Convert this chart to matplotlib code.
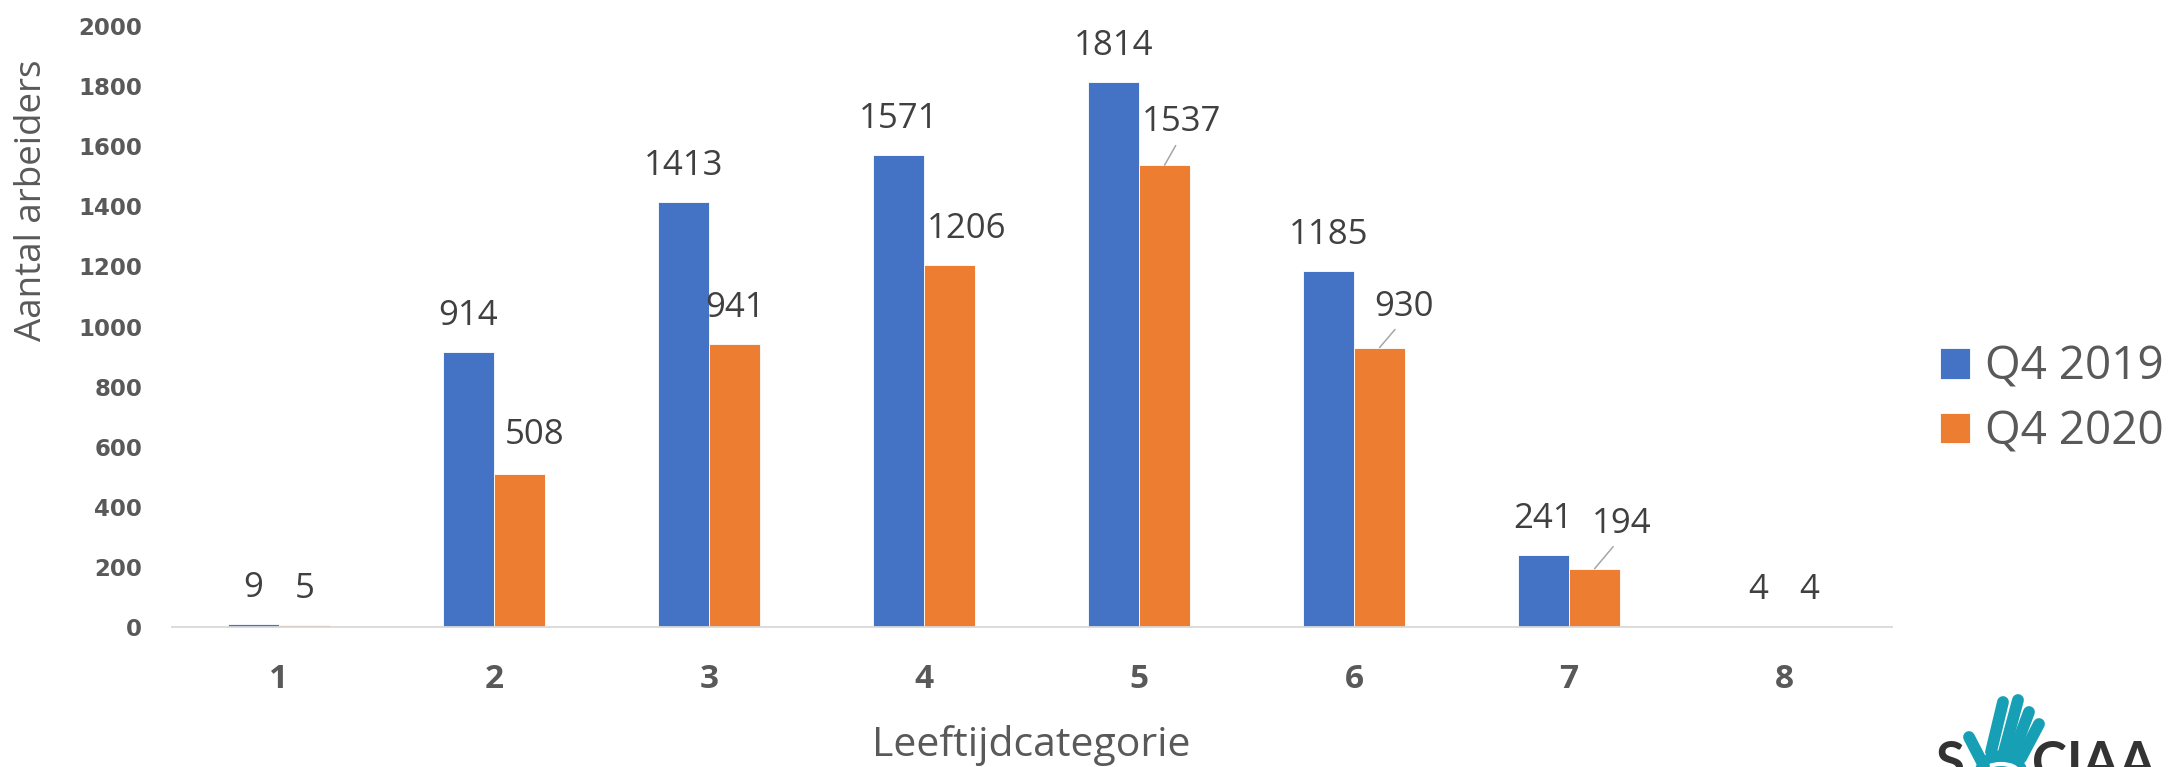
import matplotlib
matplotlib.use("Agg")
import matplotlib.pyplot as plt
import numpy as np
from matplotlib.patches import Circle, Arc

categories = ['1', '2', '3', '4', '5', '6', '7', '8']
q4_2019 = [9, 914, 1413, 1571, 1814, 1185, 241, 4]
q4_2020 = [5, 508, 941, 1206, 1537, 930, 194, 4]
series_names = ['Q4 2019', 'Q4 2020']

# label offsets in pixels (dx, dy) from top of bar, as Excel placed them
off_2019 = [(0, 36)] * 8
off_2020 = [(0, 36), (15, 39), (0, 36), (17, 36), (17, 43), (24, 41), (27, 45), (0, 36)]
leader_2020 = [False, False, False, False, True, True, True, False]

blue = '#4472C4'
orange = '#ED7D31'
tick_col = '#595959'
lab_col = '#404040'

W, H = 2172, 767
fig = plt.figure(figsize=(W / 100, H / 100), dpi=100)
ax = fig.add_axes([171.5 / W, (H - 627) / H, 1720 / W, 601 / H])

x = np.arange(len(categories))
bw = 0.238
b1 = ax.bar(x - bw / 2, q4_2019, bw, color=blue, edgecolor='white', linewidth=0.6, label=series_names[0])
b2 = ax.bar(x + bw / 2, q4_2020, bw, color=orange, edgecolor='white', linewidth=0.6, label=series_names[1])

ax.set_xlim(-0.5, 7.5)
ax.set_ylim(0, 2000)
ax.set_yticks(range(0, 2001, 200))
ax.set_xticks(x)
ax.set_xticklabels(categories)
for s in ['top', 'right', 'left']:
    ax.spines[s].set_visible(False)
ax.spines['bottom'].set_color('#D9D9D9')
ax.spines['bottom'].set_linewidth(1.3)
ax.tick_params(axis='y', length=0, pad=21, labelsize=16.5, labelcolor=tick_col)
ax.tick_params(axis='x', length=0, pad=26, labelsize=24, labelcolor=tick_col)
for t in ax.get_yticklabels():
    t.set_fontweight('bold')
    t.set_family('DejaVu Sans')
for t in ax.get_xticklabels():
    t.set_fontweight('bold')
    t.set_family('Open Sans')

lab_font = dict(family='Open Sans', fontsize=25, color=lab_col, ha='center', va='center')
for i in range(len(categories)):
    dx, dy = off_2019[i]
    ax.annotate(str(q4_2019[i]), (x[i] - bw / 2, q4_2019[i]), xytext=(dx, dy),
                textcoords='offset pixels', **lab_font)
    dx, dy = off_2020[i]
    ap = None
    if leader_2020[i]:
        ap = dict(arrowstyle='-', color='#A6A6A6', lw=1.1, shrinkA=3, shrinkB=0, relpos=(0.5, 0.12))
    ax.annotate(str(q4_2020[i]), (x[i] + bw / 2, q4_2020[i]), xytext=(dx, dy),
                textcoords='offset pixels', arrowprops=ap, **lab_font)

fig.text(32 / W, 1 - 200 / H, 'Aantal arbeiders', rotation=90, ha='center', va='center',
         family='Open Sans', fontsize=26.5, color=tick_col)
fig.text(1031 / W, 1 - 745 / H, 'Leeftijdcategorie', ha='center', va='center',
         family='Open Sans', fontsize=29.5, color=tick_col)

leg = fig.legend(handles=[b1, b2], loc='center left', bbox_to_anchor=(1940 / W, 1 - 400 / H),
                 frameon=False, prop={'family': 'Open Sans', 'size': 33},
                 handlelength=0.65, handleheight=0.65, handletextpad=0.33,
                 labelspacing=0.4, borderpad=0, borderaxespad=0)
for t in leg.get_texts():
    t.set_color(tick_col)

# partial logo in the bottom-right corner
lx = fig.add_axes([0, 0, 1, 1], zorder=-1)
lx.set_xlim(0, W)
lx.set_ylim(H, 0)
lx.axis('off')
teal = '#17A0B5'
lx.add_patch(Circle((2001, 778), 27, color=teal))
fingers = [((2003, 702), (1991, 752)), ((2018, 700), (2004, 752)),
           ((2029, 712), (2013, 754)), ((2039, 724), (2021, 758)),
           ((1969, 737), (1984, 766))]
for (x0, y0), (x1, y1) in fingers:
    lx.plot([x0, x1], [y0, y1], color=teal, lw=8.5, solid_capstyle='round')
lx.add_patch(Arc((2001, 772), 34, 16, theta1=180, theta2=360, color='white', lw=3))
lx.text(1965, 740, 'S', ha='right', va='top', family='Lato', fontweight='bold',
        fontsize=38, color='#333333')
lx.text(2032, 740, 'CIAA', ha='left', va='top', family='Lato', fontweight='bold',
        fontsize=38, color='#333333')

fig.savefig('out.png', dpi=100)
